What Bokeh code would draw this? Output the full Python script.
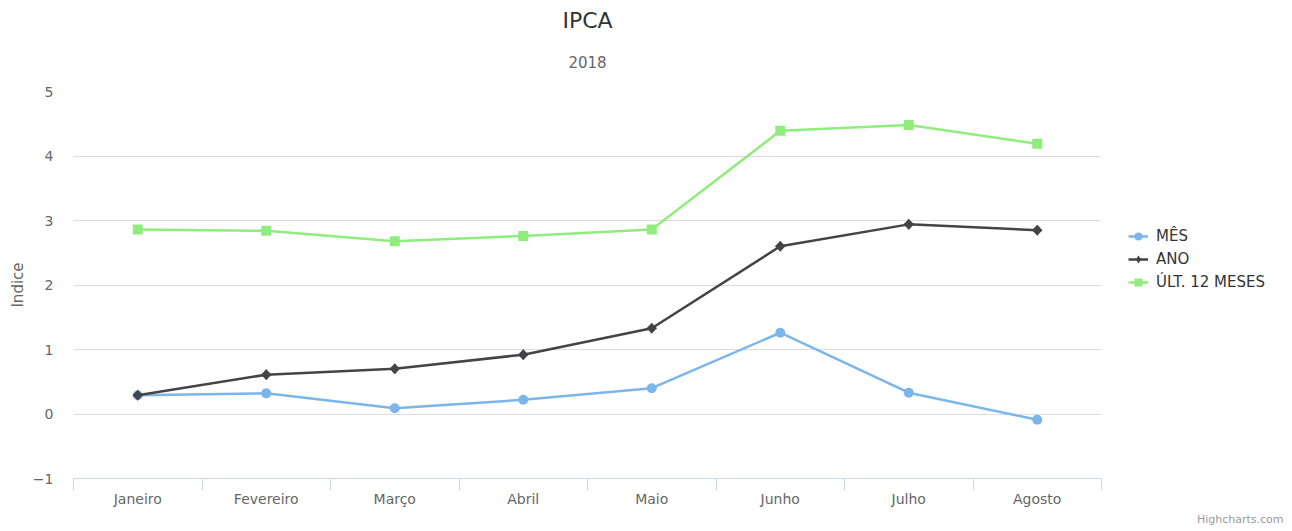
from bokeh.plotting import figure
from bokeh.models import (Range1d, FixedTicker, Label, Legend, LegendItem, Title)
from bokeh.embed import file_html
from bokeh.resources import INLINE

categories = ["Janeiro", "Fevereiro", "Março", "Abril", "Maio", "Junho", "Julho", "Agosto"]
mes = [0.29, 0.32, 0.09, 0.22, 0.40, 1.26, 0.33, -0.09]
ano = [0.29, 0.61, 0.70, 0.92, 1.33, 2.60, 2.94, 2.85]
doze_meses = [2.86, 2.84, 2.68, 2.76, 2.86, 4.39, 4.48, 4.19]
series_names = ["MÊS", "ANO", "ÚLT. 12 MESES"]
y_ticks = [-1, 0, 1, 2, 3, 4, 5]

FONT = "DejaVu Sans"
x = list(range(len(categories)))

p = figure(frame_width=1028, frame_height=387, output_backend="svg", toolbar_location=None,
           x_range=Range1d(-0.5, len(categories) - 0.5), y_range=Range1d(-1, 5),
           min_border_left=73, min_border_right=189, min_border_top=91, min_border_bottom=52)
p.outline_line_color = None
p.background_fill_color = "white"
p.border_fill_color = "white"

p.title = Title(text="IPCA", align="center", text_font=FONT, text_font_size="22px",
                text_font_style="normal", text_color="#333333", standoff=-5)
p.add_layout(Title(text="2018", align="center", text_font=FONT, text_font_size="15px",
                   text_font_style="normal", text_color="#666666", standoff=47), "above")

# x axis
xa = p.xaxis[0]
xa.ticker = FixedTicker(ticks=x, minor_ticks=[i - 0.5 for i in range(len(categories) + 1)])
xa.major_label_overrides = {i: c for i, c in enumerate(categories)}
xa.major_tick_line_color = None
xa.major_tick_out = 0
xa.major_tick_in = 0
xa.minor_tick_out = 12
xa.minor_tick_in = 0
xa.minor_tick_line_color = "#ccd6eb"
xa.axis_line_color = "#ccd6eb"
xa.major_label_standoff = 0
xa.major_label_text_font = FONT
xa.major_label_text_font_size = "14px"
xa.major_label_text_color = "#666666"

# y axis
ya = p.yaxis[0]
ya.ticker = FixedTicker(ticks=y_ticks)
ya.major_label_overrides = {-1: "−1"}
ya.axis_line_color = None
ya.major_tick_line_color = None
ya.minor_tick_line_color = None
ya.major_tick_out = 0
ya.major_tick_in = 0
ya.major_label_standoff = 20
ya.major_label_text_font = FONT
ya.major_label_text_font_size = "14px"
ya.major_label_text_color = "#666666"
ya.axis_label = "Indice"
ya.axis_label_text_font = FONT
ya.axis_label_text_font_size = "15px"
ya.axis_label_text_font_style = "normal"
ya.axis_label_text_color = "#666666"
ya.axis_label_standoff = 3

p.xgrid.grid_line_color = None
p.ygrid.grid_line_color = "#dcdcdc"
p.ygrid.grid_line_width = 1

colors = ["#7cb5ec", "#434348", "#90ed7d"]
items = []
for name, vals, col, mk in zip(series_names, [mes, ano, doze_meses], colors,
                               ["circle", "diamond", "square"]):
    ln = p.line(x, vals, line_color=col, line_width=2.5)
    if mk == "circle":
        sc = p.scatter(x, vals, marker="circle", size=10, fill_color=col, line_color=col, line_width=0)
        legend_renderers = [ln, sc]
    elif mk == "diamond":
        dm = p.scatter(x, vals, marker="diamond", size=11, fill_color=col, line_color=col,
                       line_width=0)
        p.scatter(x, vals, marker="square", size=7.5, angle=0.785398, fill_color=col,
                  line_color=col, line_width=0)
        legend_renderers = [ln, dm]
    else:
        sc = p.scatter(x, vals, marker="square", size=10, fill_color=col, line_color=col, line_width=0)
        legend_renderers = [ln, sc]
    items.append(LegendItem(label=name, renderers=legend_renderers))

legend = Legend(items=items, location=(27, 186), orientation="vertical",
                label_text_font=FONT, label_text_font_size="15px", label_text_color="#333333",
                glyph_width=20, glyph_height=20, label_height=20, spacing=3, label_standoff=8,
                padding=0, margin=0, border_line_color=None, background_fill_alpha=0)
p.add_layout(legend, "right")

# credits
p.add_layout(Label(x=1210, y=3, x_units="screen", y_units="screen", text="Highcharts.com",
                   text_align="right", text_baseline="middle", text_font=FONT,
                   text_font_size="11px", text_color="#999999"), "below")

open("out.html", "w").write(file_html(p, INLINE))
